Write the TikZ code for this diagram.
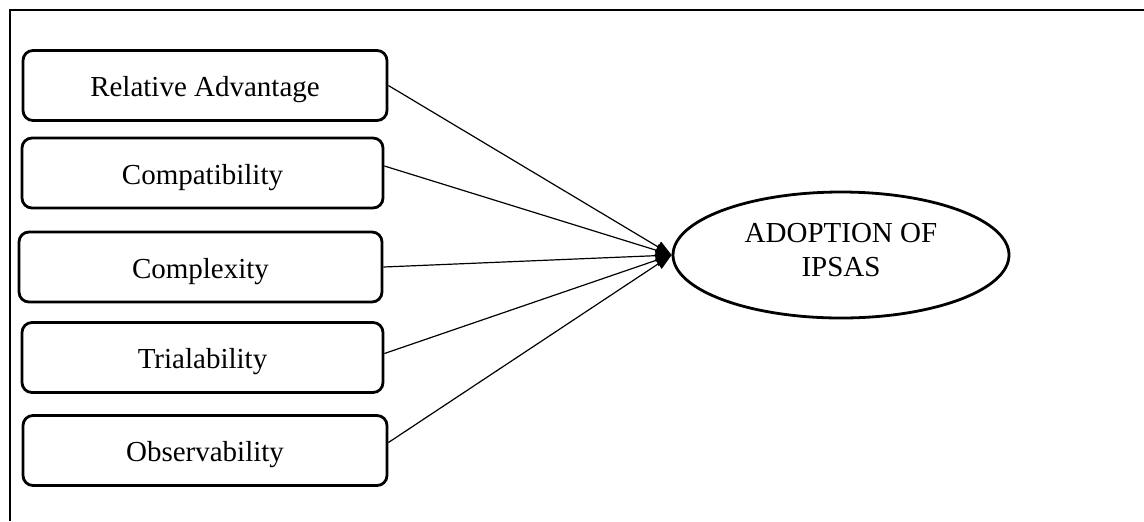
\documentclass[tikz,border=0pt]{standalone}
\usepackage{fontspec}
\setmainfont{Liberation Serif}
\usetikzlibrary{arrows.meta,shapes.geometric}

\begin{document}
\begin{tikzpicture}[x=.5pt, y=-.5pt,
    factor/.style={draw, line width=1.4pt, rounded corners=5pt, minimum height=35pt,
      inner sep=0pt, text height=13pt, text depth=2pt, font=\fontsize{14.5}{16}\selectfont},
    link/.style={line width=.6pt, -{Triangle[length=8pt, width=6pt]}}]
        \def\boxw{182}
  
        \useasboundingbox (0,0) rectangle (1144,521) ;
        \draw [line width=1.4pt] (1144,10) -- (10,10) -- (10,521) ;
  
        \node [factor, minimum width=\boxw pt] (adv) at (205,85.5) {Relative Advantage} ;
        \node [factor, minimum width=180.5pt] (comp) at (202.5,173) {Compatibility} ;
        \node [factor, minimum width=181.5pt] (cplx) at (200.5,267) {Complexity} ;
        \node [factor, minimum width=180.5pt] (trial) at (202.5,357.5) {Trialability} ;
        \node [factor, minimum width=\boxw pt] (obs) at (205,450.5) {Observability} ;
  
        \node [ellipse, draw, line width=1.4pt, minimum width=168pt, minimum height=63pt,
          align=center, text depth=5pt, font=\fontsize{14.5}{17}\selectfont] (ipsas) at (841,255) {ADOPTION OF\\IPSAS} ;
  
        \draw [link] (adv.east) -- (ipsas.west) ;
        \draw [link] ([yshift=3.5pt]comp.east) -- (ipsas.west) ;
        \draw [link] (cplx.east) -- (ipsas.west) ;
        \draw [link] ([yshift=2pt]trial.east) -- (ipsas.west) ;
        \draw [link] ([yshift=4pt]obs.east) -- (ipsas.west) ;
      \end{tikzpicture}
\end{document}
